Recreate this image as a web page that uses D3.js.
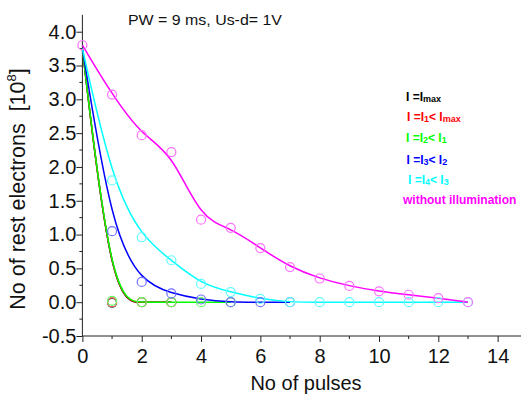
<!DOCTYPE html>
<html>
<head>
<meta charset="utf-8">
<script src="https://cdn.jsdelivr.net/npm/d3@7"></script>
<style>
  body { margin: 0; background: #fff; }
  text { font-family: Arial, "Liberation Sans", sans-serif; }
</style>
</head>
<body>
<div id="chart"></div>
<script>
// data (x = pulse number 0..n)
const black = [3.75, -0.01, 0, 0];
const red = [3.75, 0.0, 0, 0];
const green = [3.75, 0.02, 0, 0, 0, 0];
const blue = [3.75, 1.05, 0.30, 0.13, 0.04, 0, 0, 0];
const cyan = [3.75, 1.80, 0.96, 0.62, 0.27, 0.15, 0.05, 0, 0, 0, 0, 0, 0, 0];
const magenta = [3.80, 3.07, 2.47, 2.22, 1.22, 1.10, 0.80, 0.52, 0.35, 0.24, 0.16, 0.11, 0.06, 0.0];

const xTicks = [0, 2, 4, 6, 8, 10, 12, 14];
const yTicks = [-0.5, 0, 0.5, 1, 1.5, 2, 2.5, 3, 3.5, 4];

const series = [
  { name: 'black', values: black, color: '#000000', mark: '#555555', label: [['I =I', ''], ['max', 'sub']] },
  { name: 'red', values: red, color: '#ff0000', mark: '#ff6060', label: [['I =I', ''], ['1', 'sub'], ['< I', ''], ['max', 'sub']] },
  { name: 'green', values: green, color: '#00ff00', mark: '#60ff60', label: [['I =I', ''], ['2', 'sub'], ['< I', ''], ['1', 'sub']] },
  { name: 'blue', values: blue, color: '#0000ff', mark: '#7070ff', label: [['I =I', ''], ['3', 'sub'], ['< I', ''], ['2', 'sub']] },
  { name: 'cyan', values: cyan, color: '#00ffff', mark: '#60ffff', label: [['I =I', ''], ['4', 'sub'], ['< I', ''], ['3', 'sub']] },
  { name: 'magenta', values: magenta, color: '#ff00ff', mark: '#ff70ff', label: [['without illumination', '']] }
];

const W = 521, H = 396;
const svg = d3.select('#chart').append('svg')
  .attr('width', W).attr('height', H);

const x = d3.scaleLinear().domain([0, 14.8]).range([82.4, 82.4 + 14.8 * 29.66]);
const y = d3.scaleLinear().domain([-0.5, 4.25]).range([336, 14.8]);

// axes (ticks outside)
const xAxis = d3.axisBottom(x).tickValues(xTicks).tickSize(6).tickFormat(d3.format('d'));
const gx = svg.append('g').attr('transform', `translate(0,${y(-0.5)})`).call(xAxis);
gx.select('.domain').attr('d', `M${x(0)},0H${W}`);
gx.selectAll('text').attr('font-size', 20).attr('dy', '0.9em').attr('fill', '#111');
gx.selectAll('line').attr('stroke', '#222');
gx.selectAll('.minor').data(d3.range(1, 15, 2)).enter().append('line')
  .attr('x1', d => x(d)).attr('x2', d => x(d)).attr('y1', 0).attr('y2', 3).attr('stroke', '#222');

// plain hyphen for negatives, as in the original
const yFmt = d => d3.format('.1f')(d).replace('\u2212', '-');
const yAxis = d3.axisLeft(y).tickValues(yTicks).tickSize(6).tickFormat(yFmt);
const gy = svg.append('g').attr('transform', `translate(${x(0)},0)`).call(yAxis);
gy.select('.domain').attr('d', `M0,${y(-0.5)}V${y(4.25)}`);
gy.selectAll('text').attr('font-size', 20).attr('x', -6).attr('fill', '#111');
gy.selectAll('line').attr('stroke', '#222');
gy.selectAll('.minor').data(d3.range(-0.25, 4.25, 0.5)).enter().append('line')
  .attr('x1', 0).attr('x2', -3).attr('y1', d => y(d)).attr('y2', d => y(d)).attr('stroke', '#222');
svg.selectAll('.domain').attr('stroke', '#222');

// series: B-spline style curves + open circles
const line = d3.line()
  .x((d, i) => x(i))
  .y(d => y(d))
  .curve(d3.curveBasis);

series.forEach(s => {
  svg.append('path')
    .attr('d', line(s.values))
    .attr('fill', 'none')
    .attr('stroke', s.color)
    .attr('stroke-width', 1.5);
});
series.forEach(s => {
  // the x=0 marker is only shown for the magenta series
  const pts = s.values.map((v, i) => [i, v]).filter(p => p[0] > 0 || s.name === 'magenta');
  svg.append('g').selectAll('circle').data(pts).enter().append('circle')
    .attr('cx', d => x(d[0]))
    .attr('cy', d => y(d[1]))
    .attr('r', 4.5)
    .attr('fill', 'none')
    .attr('stroke', s.mark)
    .attr('stroke-width', 1.2);
});

// title
svg.append('text').attr('x', 128).attr('y', 25)
  .attr('font-size', 15.5).attr('fill', '#111')
  .attr('textLength', 154).attr('lengthAdjust', 'spacingAndGlyphs')
  .text('PW = 9 ms, Us-d= 1V');

// legend
const legendY = [101, 121, 142, 164, 184, 204];
const legendX = [406, 407, 406, 406.5, 408, 403];
series.forEach((s, i) => {
  const t = svg.append('text')
    .attr('x', legendX[i]).attr('y', legendY[i])
    .attr('font-size', 12).attr('font-weight', 'bold')
    .attr('fill', s.color);
  s.label.forEach(([str, kind]) => {
    if (kind === 'sub') t.append('tspan').attr('font-size', 9).attr('baseline-shift', '-1').text(str);
    else t.append('tspan').text(str);
  });
});

// axis titles
svg.append('text')
  .attr('x', 306).attr('y', 390)
  .attr('text-anchor', 'middle')
  .attr('font-size', 20).attr('fill', '#111')
  .text('No of pulses');

const yt = svg.append('text')
  .attr('transform', 'translate(25,189) rotate(-90)')
  .attr('text-anchor', 'middle')
  .attr('font-size', 21.5).attr('fill', '#111')
  .style('white-space', 'pre');
yt.append('tspan').text('No of rest electrons  [10');
yt.append('tspan').attr('font-size', 13).attr('baseline-shift', '9').text('8');
yt.append('tspan').text(']');
</script>
</body>
</html>
